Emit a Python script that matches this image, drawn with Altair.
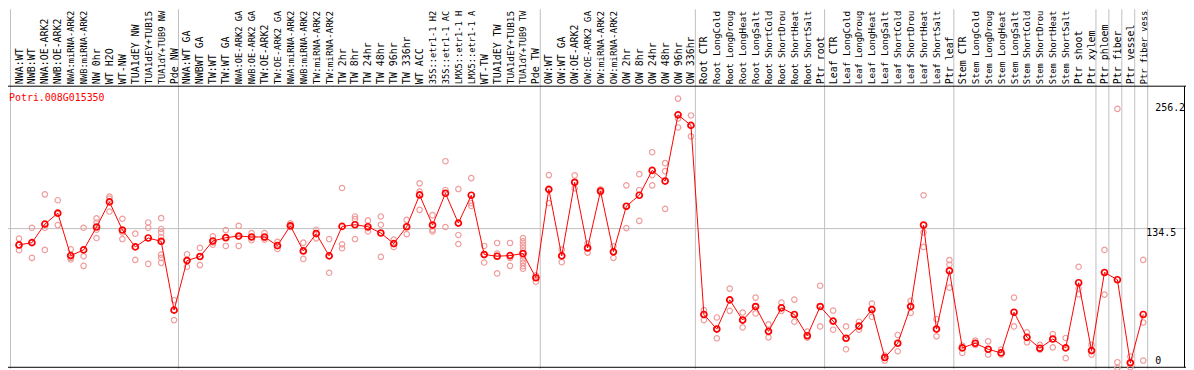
import altair as alt
import pandas as pd

# ---------------- data ----------------
labels_nw = ["NWA:WT", "NWB:WT", "NWA:OE-ARK2", "NWB:OE-ARK2", "NWA:miRNA-ARK2",
             "NWB:miRNA-ARK2", "NW 0hr", "WT H2O", "WT-NW", "TUA1dEY NW",
             "TUA1dEY+TUB15", "TUA1dY+TUB9 NW", "Pde NW"]
labels_tw = ["NWA:WT GA", "NWBWT GA", "TW:WT", "TW:WT GA", "NWA:OE-ARK2 GA",
             "NWB:OE-ARK2 GA", "TW:OE-ARK2", "TW:OE-ARK2 GA", "NWA:miRNA-ARK2",
             "NWB:miRNA-ARK2", "TW:miRNA-ARK2", "TW:miRNA-ARK2", "TW 2hr", "TW 8hr",
             "TW 24hr", "TW 48hr", "TW 96hr", "TW 336hr", "WT ACC", "35S::etr1-1 H2",
             "35S::etr1-1 AC", "LMX5::etr1-1 H", "LMX5::etr1-1 A", "WT-TW",
             "TUA1dEY TW", "TUA1dEY+TUB15", "TUA1dY+TUB9 TW", "Pde TW"]
labels_ow = ["OW:WT", "OW:WT GA", "OW:OE-ARK2", "OW:OE-ARK2 GA", "OW:miRNA-ARK2",
             "OW:miRNA-ARK2", "OW 2hr", "OW 8hr", "OW 24hr", "OW 48hr", "OW 96hr",
             "OW 336hr"]
labels_root = ["Root CTR", "Root LongCold", "Root LongDroug", "Root LongHeat",
               "Root LongSalt", "Root ShortCold", "Root ShortDrou", "Root ShortHeat",
               "Root ShortSalt", "Ptr root"]
labels_leaf = ["Leaf CTR", "Leaf LongCold", "Leaf LongDroug", "Leaf LongHeat",
               "Leaf LongSalt", "Leaf ShortCold", "Leaf ShortDrou", "Leaf ShortHeat",
               "Leaf ShortSalt", "Ptr leaf"]
labels_stem = ["Stem CTR", "Stem LongCold", "Stem LongDroug", "Stem LongHeat",
               "Stem LongSalt", "Stem ShortCold", "Stem ShortDrou", "Stem ShortHeat",
               "Stem ShortSalt", "Ptr shoot", "Ptr xylem"]
labels_cell = ["Ptr phloem", "Ptr fiber", "Ptr vessel", "Ptr fiber vess"]

means = [118.7, 120.9, 138.8, 149.4, 108.4, 113.9, 136.0, 160.3, 133.1, 116.8,
         125.4, 122.2, 55.7,
         103.6, 107.5, 122.5, 125.7, 127.3, 126.4, 126.4, 118.0, 137.2, 112.9,
         129.6, 108.1, 136.6, 138.2, 136.3, 130.2, 120.0, 136.3, 167.0, 137.9,
         168.6, 139.8, 166.7, 109.4, 107.8, 108.4, 110.4, 87.0,
         172.4, 108.1, 179.2, 115.8, 170.8, 112.0, 156.1, 166.7, 190.7, 180.4,
         244.4, 234.2,
         51.5, 37.4, 65.6, 46.1, 59.2, 35.2, 57.9, 51.5, 31.0, 59.2,
         45.1, 28.5, 40.3, 56.3, 9.9, 23.7, 59.2, 137.9, 37.4, 93.7,
         19.2, 23.7, 17.9, 14.4, 53.7, 29.4, 18.9, 27.8, 19.2, 82.2, 16.6,
         92.1, 85.1, 4.8, 51.5]

replicates = [
    [124.8, 118.7, 113.6], [135.3, 120.9, 106.2], [167.6, 135.3, 113.9],
    [161.9, 148.8, 137.9], [114.5, 106.2, 104.6], [135.3, 107.8, 98.5],
    [144.3, 140.4, 133.4, 125.4], [165.4, 163.5, 151.0], [144.0, 130.8, 124.4],
    [129.6, 116.8, 104.3], [140.4, 135.3, 100.4],
    [144.6, 134.1, 130.8, 126.4, 109.4, 106.2, 101.4], [65.3, 55.7, 46.1],
    [109.7, 103.6, 97.6], [115.8, 107.5, 99.2], [127.0, 121.2, 119.0],
    [133.1, 125.7, 117.7], [137.2, 127.0, 117.7], [130.2, 126.4, 123.2],
    [130.2, 125.4, 123.8], [121.6, 118.0, 114.8], [139.5, 137.2, 136.0],
    [120.9, 112.9, 105.2], [133.4, 129.6, 125.1], [124.4, 108.1, 91.8],
    [173.7, 119.3, 115.5], [146.2, 143.6, 124.4], [142.4, 135.0, 131.8],
    [146.2, 138.2, 107.2], [123.8, 120.0, 116.8], [143.0, 136.3, 129.2],
    [178.2, 170.2, 152.6], [147.5, 133.4, 131.8], [199.6, 171.8, 136.0],
    [172.7, 128.3, 119.6], [183.3, 159.0, 156.4], [117.7, 109.4, 101.7],
    [120.6, 110.4, 91.2], [120.6, 106.2, 98.5],
    [125.4, 122.2, 119.0, 115.8, 112.6, 107.8, 104.6, 101.4, 98.2, 95.7],
    [89.3, 87.0, 83.2],
    [186.2, 171.8, 159.2], [114.2, 108.1, 102.0], [185.9, 179.2, 173.4],
    [120.0, 115.8, 111.3], [172.4, 170.8, 169.2], [117.4, 112.0, 106.2],
    [176.3, 156.1, 135.0], [187.1, 171.8, 142.0], [208.3, 186.2, 176.3],
    [197.7, 190.0, 153.6], [260.1, 240.9, 232.2], [243.8, 234.2, 223.6],
    [55.7, 51.5, 46.1], [48.6, 37.4, 28.5], [76.5, 65.6, 55.0],
    [53.4, 46.1, 39.0], [67.8, 59.2, 52.5], [41.9, 35.2, 29.4],
    [63.0, 57.9, 55.0], [65.9, 51.5, 44.5], [34.9, 31.0, 29.1],
    [79.3, 59.2, 40.0],
    [55.3, 45.1, 36.8], [40.0, 28.5, 17.9], [44.5, 40.3, 36.8],
    [62.1, 56.3, 49.3], [11.8, 9.9, 7.0], [31.7, 23.7, 16.0],
    [64.6, 59.2, 53.1], [166.7, 130.8, 116.8], [47.0, 37.4, 30.4],
    [104.0, 99.8, 77.4],
    [21.4, 19.2, 14.4], [26.2, 23.7, 22.1], [25.6, 17.9, 12.8],
    [17.6, 14.4, 12.8], [67.8, 53.7, 40.0], [34.2, 29.4, 24.6],
    [22.1, 18.9, 17.6], [32.6, 27.8, 19.8], [28.8, 19.2, 9.3],
    [97.6, 76.5, 71.0], [22.1, 16.6, 12.8],
    [113.9, 92.1, 70.7], [250.2, 5.4, 0.0], [10.8, 4.8, 0.6], [104.3, 43.8, 7.0],
]

gene_name = "Potri.008G015350"
tick_values = [256.2, 134.5, 0]
tick_labels = ["256.2", "134.5", "0"]
group_bounds = [0, 13, 41, 53, 63, 73, 84, 85, 86, 87, 88]

labels = labels_nw + labels_tw + labels_ow + labels_root + labels_leaf + labels_stem + labels_cell

# ---------------- tables ----------------
df_mean = pd.DataFrame({"u": [i + 0.66 for i in range(len(means))], "v": means})
df_rep = pd.DataFrame([{"u": i + 0.66, "v": v} for i, r in enumerate(replicates) for v in r])
LABEL_ROOM = 74.0  # px available above the separator line
df_lab = pd.DataFrame({
    "u": [i + 0.7 for i in range(len(labels))],
    "label": labels,
    "fs": [min(10.0, LABEL_ROOM / (0.602 * len(s))) for s in labels],
})
df_bounds = pd.DataFrame({"u": group_bounds})
df_grid = pd.DataFrame({"v": [tick_values[1]]})
one = pd.DataFrame({"a": [0]})

W, H = 1186, 362
X0, X1 = -2.5 / 13.01, (W - 2.5) / 13.01
Y0, Y1 = -1 / 1.042, 361 / 1.042
xs = alt.Scale(domain=[X0, X1], nice=False, zero=False)
ys = alt.Scale(domain=[Y0, Y1], nice=False, zero=False)
FONT = "DejaVu Sans Mono"
GRAY = "#c0c0c0"

vlines = alt.Chart(df_bounds).mark_rule(color=GRAY, strokeWidth=1).encode(
    x=alt.X("u:Q", scale=xs, axis=None), y=alt.value(0), y2=alt.value(H))
hgrid = alt.Chart(df_grid).mark_rule(color=GRAY, strokeWidth=1).encode(
    y=alt.Y("v:Q", scale=ys, axis=None), x=alt.value(0), x2=alt.value(W))
sep = alt.Chart(one).mark_rule(color="black", strokeWidth=1).encode(
    y=alt.value(77.5), x=alt.value(0), x2=alt.value(W))
bottom = alt.Chart(one).mark_rule(color="black", strokeWidth=1).encode(
    y=alt.value(360.5), x=alt.value(0), x2=alt.value(W))
right = alt.Chart(one).mark_rule(color="black", strokeWidth=1).encode(
    x=alt.value(1184.5), y=alt.value(77.5), y2=alt.value(360.5))

reps = alt.Chart(df_rep).mark_point(shape="circle", filled=False, size=30,
                                    strokeWidth=1.2, color="#f09c9c", opacity=1).encode(
    x=alt.X("u:Q", scale=xs, axis=None), y=alt.Y("v:Q", scale=ys, axis=None))
line = alt.Chart(df_mean).mark_line(color="#ff0000", strokeWidth=1).encode(
    x=alt.X("u:Q", scale=xs, axis=None), y=alt.Y("v:Q", scale=ys, axis=None))
mpts = alt.Chart(df_mean).mark_point(shape="circle", filled=False, size=36,
                                     strokeWidth=1.7, color="#ff0000", opacity=1).encode(
    x=alt.X("u:Q", scale=xs, axis=None), y=alt.Y("v:Q", scale=ys, axis=None))

labs = alt.Chart(df_lab).mark_text(font=FONT, angle=270, align="left",
                                   baseline="middle", color="black").encode(
    x=alt.X("u:Q", scale=xs, axis=None), y=alt.value(75.5), text="label:N",
    size=alt.Size("fs:Q", scale=None, legend=None))

title = alt.Chart(pd.DataFrame({"t": [gene_name]})).mark_text(
    font=FONT, fontSize=10, align="left", baseline="alphabetic", color="#ff0000").encode(
    x=alt.value(1), y=alt.value(92), text="t:N")

tick_layers = []
tick_dx = [1155, 1146, 1155]
tick_dy = [8.7, 7.5, -4.0]
for val, lab, px, dy in zip(tick_values, tick_labels, tick_dx, tick_dy):
    tick_layers.append(
        alt.Chart(pd.DataFrame({"v": [val], "lab": [lab]})).mark_text(
            font=FONT, fontSize=10, align="left", baseline="alphabetic",
            color="black", dy=dy).encode(
            x=alt.value(px), y=alt.Y("v:Q", scale=ys, axis=None), text="lab:N"))

chart = alt.layer(vlines, hgrid, sep, bottom, right, reps, line, mpts, labs, title,
                  *tick_layers).properties(
    width=W, height=H, padding=0,
    autosize=alt.AutoSizeParams(type="none"),
).configure_view(stroke=None)

chart.save("out.html", embed_options={"renderer": "svg", "actions": False})
